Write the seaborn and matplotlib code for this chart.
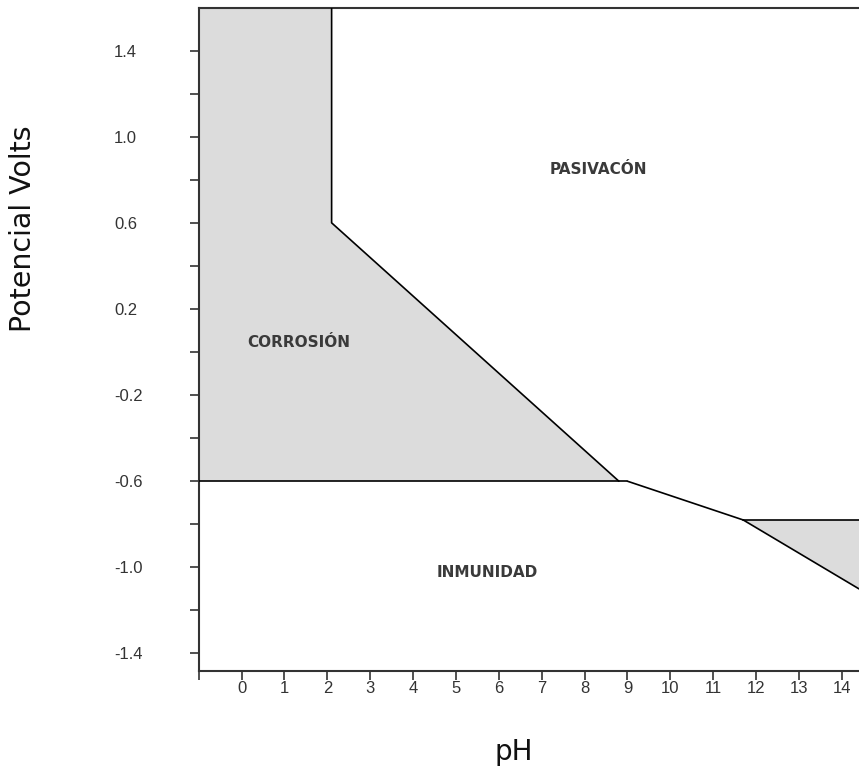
import numpy as np
import pandas as pd
import matplotlib
matplotlib.use("Agg")
import matplotlib.pyplot as plt
import seaborn as sns

# ---- data ----
corrosion_ph = [-1.0, -1.0, 2.1, 2.1, 8.8]
corrosion_v = [-0.6, 1.6, 1.6, 0.6, -0.6]

corrosion2_ph = [11.7, 14.4, 14.4]
corrosion2_v = [-0.78, -0.78, -1.10]

seg_names = ["pasiv_left", "pasiv_left", "pasiv_left",
             "immunity_top", "immunity_top",
             "slope_mid", "slope_mid",
             "upper_right", "upper_right",
             "lower_right", "lower_right"]
seg_ph = [2.1, 2.1, 8.8,
          -1.0, 9.0,
          9.0, 11.7,
          11.7, 14.4,
          11.7, 14.4]
seg_v = [1.6, 0.6, -0.6,
         -0.6, -0.6,
         -0.6, -0.78,
         -0.78, -0.78,
         -0.78, -1.10]

region_names = ["PASIVACÓN", "CORROSIÓN", "INMUNIDAD"]
region_ph = [8.31, 1.33, 5.74]
region_v = [0.846, 0.042, -1.022]

x_ticks = list(range(-1, 15))
x_tick_labels = [""] + [str(i) for i in range(0, 15)]
y_major = [1.4, 1.0, 0.6, 0.2, -0.2, -0.6, -1.0, -1.4]
y_major_labels = ["1.4", "1.0", "0.6", "0.2", "-0.2", "-0.6", "-1.0", "-1.4"]
y_minor = [1.2, 0.8, 0.4, 0.0, -0.4, -0.8, -1.2]

# ---- plotting ----
sns.set_theme(style="white")
plt.rcParams["font.family"] = ["Liberation Sans", "DejaVu Sans"]

fig = plt.figure(figsize=(8.59, 7.71), dpi=100)
L, R = 198.7 / 859, 1.0
B, T = 1 - 670.7 / 771, 1 - 7.5 / 771
ax = fig.add_axes([L, B, R - L, T - B])

ax.fill(corrosion_ph, corrosion_v, color="#dcdcdc", lw=0, zorder=1)
ax.fill(corrosion2_ph, corrosion2_v, color="#dcdcdc", lw=0, zorder=1)

df = pd.DataFrame({"segment": seg_names, "pH": seg_ph, "V": seg_v})
sns.lineplot(data=df, x="pH", y="V", units="segment", estimator=None,
             sort=False, color="black", lw=1.2, ax=ax, zorder=3)

for name, px, py in zip(region_names, region_ph, region_v):
    ax.text(px, py, name, ha="center", va="center", fontsize=11,
            fontweight="bold", color="#3a3a3a",
            family=["DejaVu Sans"])

ax.set_xlim(-1.0, 14.40)
ax.set_ylim(-1.48, 1.60)

ax.set_xticks(x_ticks)
ax.set_xticklabels(x_tick_labels)
ax.set_yticks(y_major)
ax.set_yticklabels(y_major_labels, ha="left")
ax.set_yticks(y_minor, minor=True)

ax.tick_params(axis="x", which="both", direction="out", length=6.5, width=1.1,
               color="#222222", labelsize=12, labelcolor="#333333", pad=1,
               bottom=True)
ax.tick_params(axis="y", which="both", direction="out", length=6.5, width=1.1,
               color="#222222", labelsize=12, labelcolor="#333333", pad=54.5,
               left=True)

for side in ["left", "bottom", "top"]:
    ax.spines[side].set_visible(True)
    ax.spines[side].set_color("#333333")
    ax.spines[side].set_linewidth(1.5)
ax.spines["right"].set_visible(False)

ax.set_xlabel("pH", fontsize=20, family=["DejaVu Sans"], color="#111111",
              va="center")
ax.xaxis.set_label_coords((514 - 198.7) / (859 - 198.7), (670.7 - 752) / (670.7 - 7.5))
ax.set_ylabel("Potencial Volts", fontsize=20.5, family=["DejaVu Sans"],
              color="#111111", va="center", ha="center")
ax.yaxis.set_label_coords((23 - 198.7) / (859 - 198.7), (670.7 - 229) / (670.7 - 7.5))

ax.grid(False)
fig.savefig("out.png", dpi=100)
